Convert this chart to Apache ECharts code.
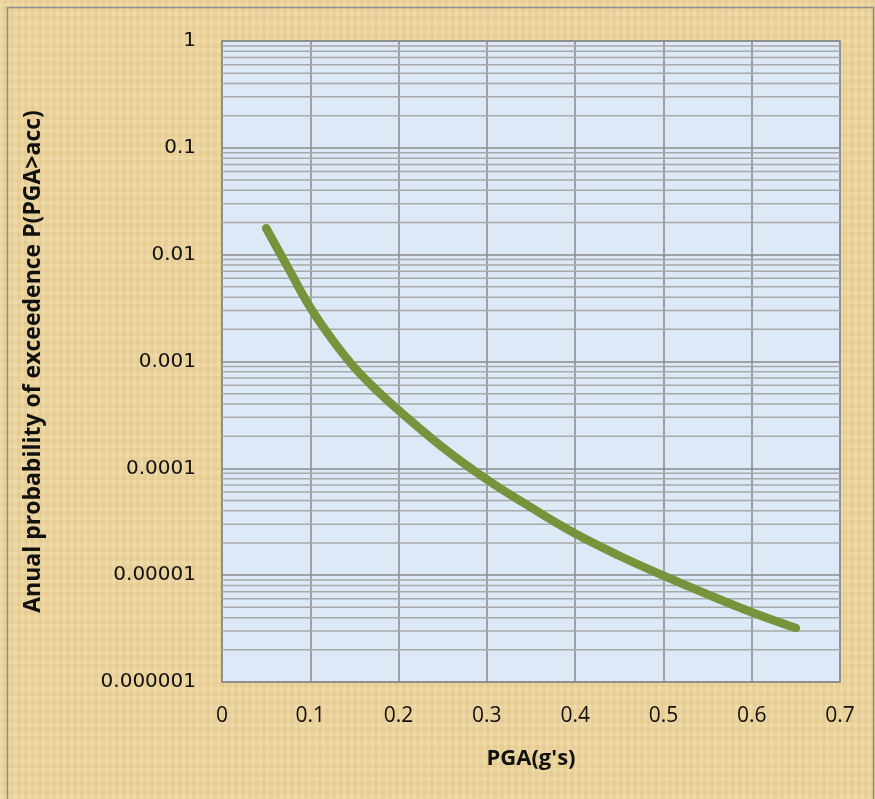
<!DOCTYPE html>
<html>
<head>
<meta charset="utf-8">
<script src="https://cdn.jsdelivr.net/npm/echarts@6/dist/echarts.min.js"></script>
<style>
  html, body { margin: 0; padding: 0; }
  #chart {
    width: 875px; height: 799px;
    background-color: #edd59d;
    background-image:
      repeating-linear-gradient(90deg, rgba(255,255,255,0.07) 0 3px, rgba(160,120,50,0.05) 3px 7px),
      repeating-linear-gradient(0deg, rgba(255,255,255,0.05) 0 4px, rgba(160,120,50,0.04) 4px 9px);
  }
</style>
</head>
<body>
<div id="chart"></div>
<script>
// PGA values (g) and annual probability of exceedence
const pga = [0.05, 0.075, 0.10, 0.125, 0.15, 0.175, 0.20, 0.25, 0.30, 0.35, 0.40, 0.45, 0.50, 0.55, 0.60, 0.65];
const probExceed = [0.0177, 0.0075, 0.0032, 0.0016, 0.00088, 0.00054, 0.00035, 0.000157, 0.0000785, 0.000043, 0.0000245, 0.0000152, 0.0000099, 0.0000066, 0.0000045, 0.0000032];

const xTicks = [0, 0.1, 0.2, 0.3, 0.4, 0.5, 0.6, 0.7];
const yTickLabels = ['0.000001', '0.00001', '0.0001', '0.001', '0.01', '0.1', '1'];

// minor log grid lines at 2..9 in each decade
let minorGrid = [];
for (let e = -6; e < 0; e++) {
  for (let m = 2; m <= 9; m++) {
    minorGrid.push(m * Math.pow(10, e));
  }
}

let chart = echarts.init(document.getElementById('chart'));

chart.setOption({
  animation: false,
  graphic: [
    {
      type: 'rect',
      shape: { x: 7.5, y: 7.5, width: 866, height: 800 },
      style: { fill: 'none', stroke: '#8c8c8c', lineWidth: 1.5 },
      silent: true
    }
  ],
  grid: {
    left: 222,
    right: 35,
    top: 41,
    bottom: 117,
    show: true,
    backgroundColor: '#dde9f7',
    borderColor: '#8a8a8a',
    borderWidth: 1.5
  },
  xAxis: {
    type: 'value',
    min: 0,
    max: 0.7,
    interval: 0.1,
    name: "PGA(g's)",
    nameLocation: 'middle',
    nameGap: 66,
    nameTextStyle: { fontFamily: 'Open Sans', fontWeight: 'bold', fontSize: 22, color: '#111' },
    axisLine: { show: false },
    axisTick: { show: false },
    axisLabel: {
      margin: 24,
      fontFamily: 'Open Sans',
      fontSize: 21,
      color: '#111',
      formatter: function (v) {
        let t = xTicks.find(function (x) { return Math.abs(x - v) < 1e-9; });
        return t === undefined ? '' : String(t);
      }
    },
    splitLine: { show: true, lineStyle: { color: '#8a8a8a', width: 1.5 } }
  },
  yAxis: {
    type: 'log',
    logBase: 10,
    min: 0.000001,
    max: 1,
    name: 'Anual probability of exceedence P(PGA>acc)',
    nameLocation: 'middle',
    nameGap: 177,
    nameTextStyle: { fontFamily: 'Open Sans', fontWeight: 'bold', fontSize: 23, color: '#111' },
    axisLine: { show: false },
    axisTick: { show: false },
    axisLabel: {
      margin: 26,
      fontFamily: 'DejaVu Sans',
      fontSize: 20,
      color: '#111',
      formatter: function (v) {
        let i = Math.round(Math.log10(v)) + 6;
        return yTickLabels[i] || '';
      }
    },
    splitLine: { show: true, lineStyle: { color: '#8a8a8a', width: 1.5 } }
  },
  series: [
    {
      // minor horizontal grid lines, placed through the log axis
      type: 'custom',
      silent: true,
      z: 1,
      data: minorGrid.map(function (v) { return [0, v]; }),
      renderItem: function (params, api) {
        let v = api.value(1);
        let p1 = api.coord([0, v]);
        let p2 = api.coord([0.7, v]);
        return {
          type: 'line',
          shape: { x1: p1[0], y1: p1[1], x2: p2[0], y2: p2[1] },
          style: { stroke: '#a9a9a9', lineWidth: 1.5 }
        };
      }
    },
    {
      type: 'line',
      data: pga.map(function (x, i) { return [x, probExceed[i]]; }),
      smooth: 0.4,
      symbol: 'none',
      z: 10,
      lineStyle: { color: '#77933c', width: 8.5, cap: 'round', join: 'round' }
    }
  ]
});
</script>
</body>
</html>
